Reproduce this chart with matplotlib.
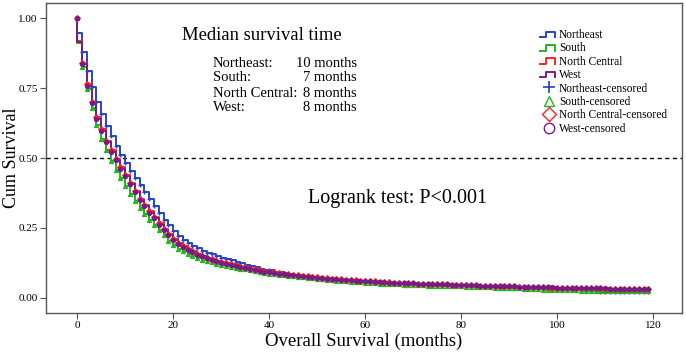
import matplotlib
matplotlib.use("Agg")
import matplotlib.pyplot as plt
import numpy as np
from matplotlib.lines import Line2D
from matplotlib.legend_handler import HandlerBase

# survival at end of each month 0..119, in thousandths
months = list(range(120))

northeast = [945, 878, 812, 753, 700, 656, 614, 578, 543, 511,
             481, 453, 428, 404, 378, 353, 330, 302, 280, 259,
             238, 222, 208, 196, 186, 177, 169, 162, 156, 150,
             144, 139, 134, 129, 124, 118, 113, 109, 105, 101,
             98, 94, 91, 88, 85, 82, 80, 78, 76, 74,
             72, 70, 69, 67, 66, 65, 63, 62, 61, 60,
             59, 58, 57, 56, 55, 54, 53, 53, 52, 51,
             51, 50, 49, 49, 48, 48, 47, 47, 46, 46,
             45, 45, 44, 44, 43, 43, 42, 42, 41, 41,
             40, 40, 39, 39, 38, 38, 38, 37, 37, 37,
             36, 36, 36, 35, 35, 35, 34, 34, 34, 21,
             21, 21, 21, 20, 20, 20, 20, 20, 20, 20]

south = [910, 826, 745, 677, 617, 569, 527, 490, 458, 428,
         400, 373, 348, 322, 300, 280, 261, 243, 224, 205,
         189, 176, 166, 157, 150, 143, 137, 132, 127, 122,
         118, 115, 111, 108, 105, 102, 99, 96, 93, 90,
         87, 85, 83, 81, 79, 77, 75, 73, 71, 70,
         68, 66, 65, 63, 62, 61, 59, 58, 57, 56,
         54, 53, 52, 51, 50, 49, 48, 48, 47, 46,
         46, 45, 45, 44, 44, 43, 43, 42, 42, 41,
         41, 40, 40, 39, 39, 38, 38, 37, 37, 36,
         36, 35, 34, 33, 32, 31, 30, 29, 28, 27,
         27, 27, 27, 27, 27, 26, 26, 26, 26, 26,
         26, 26, 26, 26, 26, 26, 26, 26, 26, 26]

north_central = [918, 840, 763, 700, 646, 602, 562, 528, 497, 467,
                 438, 410, 382, 355, 331, 309, 288, 267, 248, 229,
                 211, 197, 185, 175, 166, 158, 151, 144, 138, 133,
                 128, 124, 120, 116, 112, 109, 105, 102, 99, 96,
                 93, 91, 89, 87, 85, 83, 81, 79, 77, 75,
                 73, 72, 70, 69, 67, 66, 65, 64, 63, 62,
                 61, 60, 59, 58, 57, 56, 55, 54, 53, 53,
                 52, 51, 51, 50, 50, 49, 48, 48, 47, 47,
                 46, 46, 45, 45, 44, 44, 43, 43, 42, 42,
                 41, 41, 40, 40, 39, 39, 38, 38, 38, 37,
                 37, 37, 36, 36, 35, 35, 35, 34, 34, 34,
                 33, 33, 33, 33, 32, 32, 32, 32, 31, 31]

west = [915, 835, 758, 695, 640, 597, 557, 523, 493, 462,
        434, 406, 378, 350, 327, 305, 284, 262, 243, 225,
        207, 194, 182, 172, 163, 155, 148, 142, 136, 131,
        126, 122, 118, 114, 111, 107, 104, 100, 97, 94,
        91, 89, 87, 85, 83, 81, 79, 77, 75, 74,
        72, 71, 69, 68, 66, 65, 64, 63, 62, 61,
        60, 59, 58, 57, 56, 55, 54, 54, 53, 52,
        52, 51, 50, 50, 49, 49, 48, 48, 47, 47,
        46, 46, 45, 45, 44, 44, 43, 43, 42, 42,
        41, 41, 40, 40, 40, 39, 39, 38, 38, 38,
        37, 37, 36, 36, 36, 35, 35, 35, 34, 34,
        34, 33, 33, 33, 33, 32, 32, 32, 32, 32]

regions = ["Northeast", "South", "North Central", "West"]
medians = ["10 months", "7 months", "8 months", "8 months"]
colors = ["#2444c4", "#22b422", "#ff2222", "#7a1a86"]
markers = ["+", "^", "D", "o"]

plt.rcParams['font.family'] = ['Liberation Serif', 'DejaVu Serif']

fig = plt.figure(figsize=(6.86, 3.58), dpi=100)
ax = fig.add_axes([46 / 686, 1 - 313 / 358, 636 / 686, 310 / 358])

series = [northeast, south, north_central, west]
for name, vals, c, m in zip(regions, series, colors, markers):
    s = np.array(vals) / 1000.0
    x = np.concatenate([[0], months])
    y = np.concatenate([[1.0], s])
    ax.plot(x, y, drawstyle='steps-post', color=c, lw=1.4, zorder=2)
    # censored marks
    mx = np.array(months)
    my = np.concatenate([[1.0], s[1:]])
    if m == "+":
        ax.plot(mx, my, ls='none', marker=m, ms=3.5, mew=1.0, color=c, zorder=3)
    else:
        ax.plot(mx, my, ls='none', marker=m, ms=3.0, mew=0.8, color=c, mec=c, zorder=3)

ax.axhline(0.5, color='black', lw=1.0, ls=(0, (3, 2.5)), zorder=1)

ax.set_xlim(-6.5, 126)
ax.set_ylim(-0.054, 1.054)
ax.set_xticks([0, 20, 40, 60, 80, 100, 120])
ax.set_yticks([0.0, 0.25, 0.5, 0.75, 1.0])
ax.set_yticklabels(["0.00", "0.25", "0.50", "0.75", "1.00"])
ax.tick_params(labelsize=8, length=4, width=0.8, color='#555555', pad=2)
for sp in ax.spines.values():
    sp.set_color('#555555')
    sp.set_linewidth(1.0)

ax.set_xlabel("Overall Survival (months)", fontsize=13.5, labelpad=2)
ax.set_ylabel("Cum Survival", fontsize=13)
ax.yaxis.set_label_coords(-0.041, 0.5)

# median survival text block
ax.text(21.9, 0.939, "Median survival time", fontsize=13.4, va='center', ha='left')
ys = [0.836, 0.786, 0.732, 0.682]
for r, md, yy in zip(regions, medians, ys):
    ax.text(28.3, yy, r + ":", fontsize=10.5, va='center', ha='left')
    ax.text(58.3, yy, md, fontsize=10.5, va='center', ha='right')

ax.text(48.1, 0.357, "Logrank test: P<0.001", fontsize=14.5, va='center', ha='left')


# step-shaped legend icons
class StepHandler(HandlerBase):
    def create_artists(self, legend, orig_handle, xdescent, ydescent,
                       width, height, fontsize, trans):
        x0 = -xdescent
        y0 = -ydescent + height * 0.1
        h = height * 0.7
        xs = [x0, x0 + 0.35 * width, x0 + 0.35 * width, x0 + 0.85 * width, x0 + 0.85 * width]
        ys_ = [y0, y0, y0 + h, y0 + h, y0]
        ln = Line2D(xs, ys_, color=orig_handle.get_color(), lw=1.4)
        ln.set_transform(trans)
        return [ln]


handles = []
labels = []
handler_map = {}
for name, c in zip(regions, colors):
    h = Line2D([], [], color=c)
    handles.append(h)
    labels.append(name)
    handler_map[h] = StepHandler()
cens_styles = [("+", 9, 1.2, colors[0]), ("^", 7, 1.0, 'none'),
               ("D", 7, 1.0, 'none'), ("o", 7.5, 1.0, 'none')]
for name, c, (m, ms, mew, fc) in zip(regions, colors, cens_styles):
    h = Line2D([], [], ls='none', marker=m, ms=ms, mew=mew, mec=c,
               mfc=fc if fc != colors[0] else c, color=c)
    handles.append(h)
    labels.append(name + "-censored")

leg = ax.legend(handles, labels, handler_map=handler_map,
                loc='upper left', bbox_to_anchor=((540 - 46) / 636, (313 - 29) / 310),
                frameon=False, fontsize=8.3, handlelength=1.5, handletextpad=0.15,
                labelspacing=0.12, borderpad=0, borderaxespad=0)

fig.savefig("out.png", dpi=100)
